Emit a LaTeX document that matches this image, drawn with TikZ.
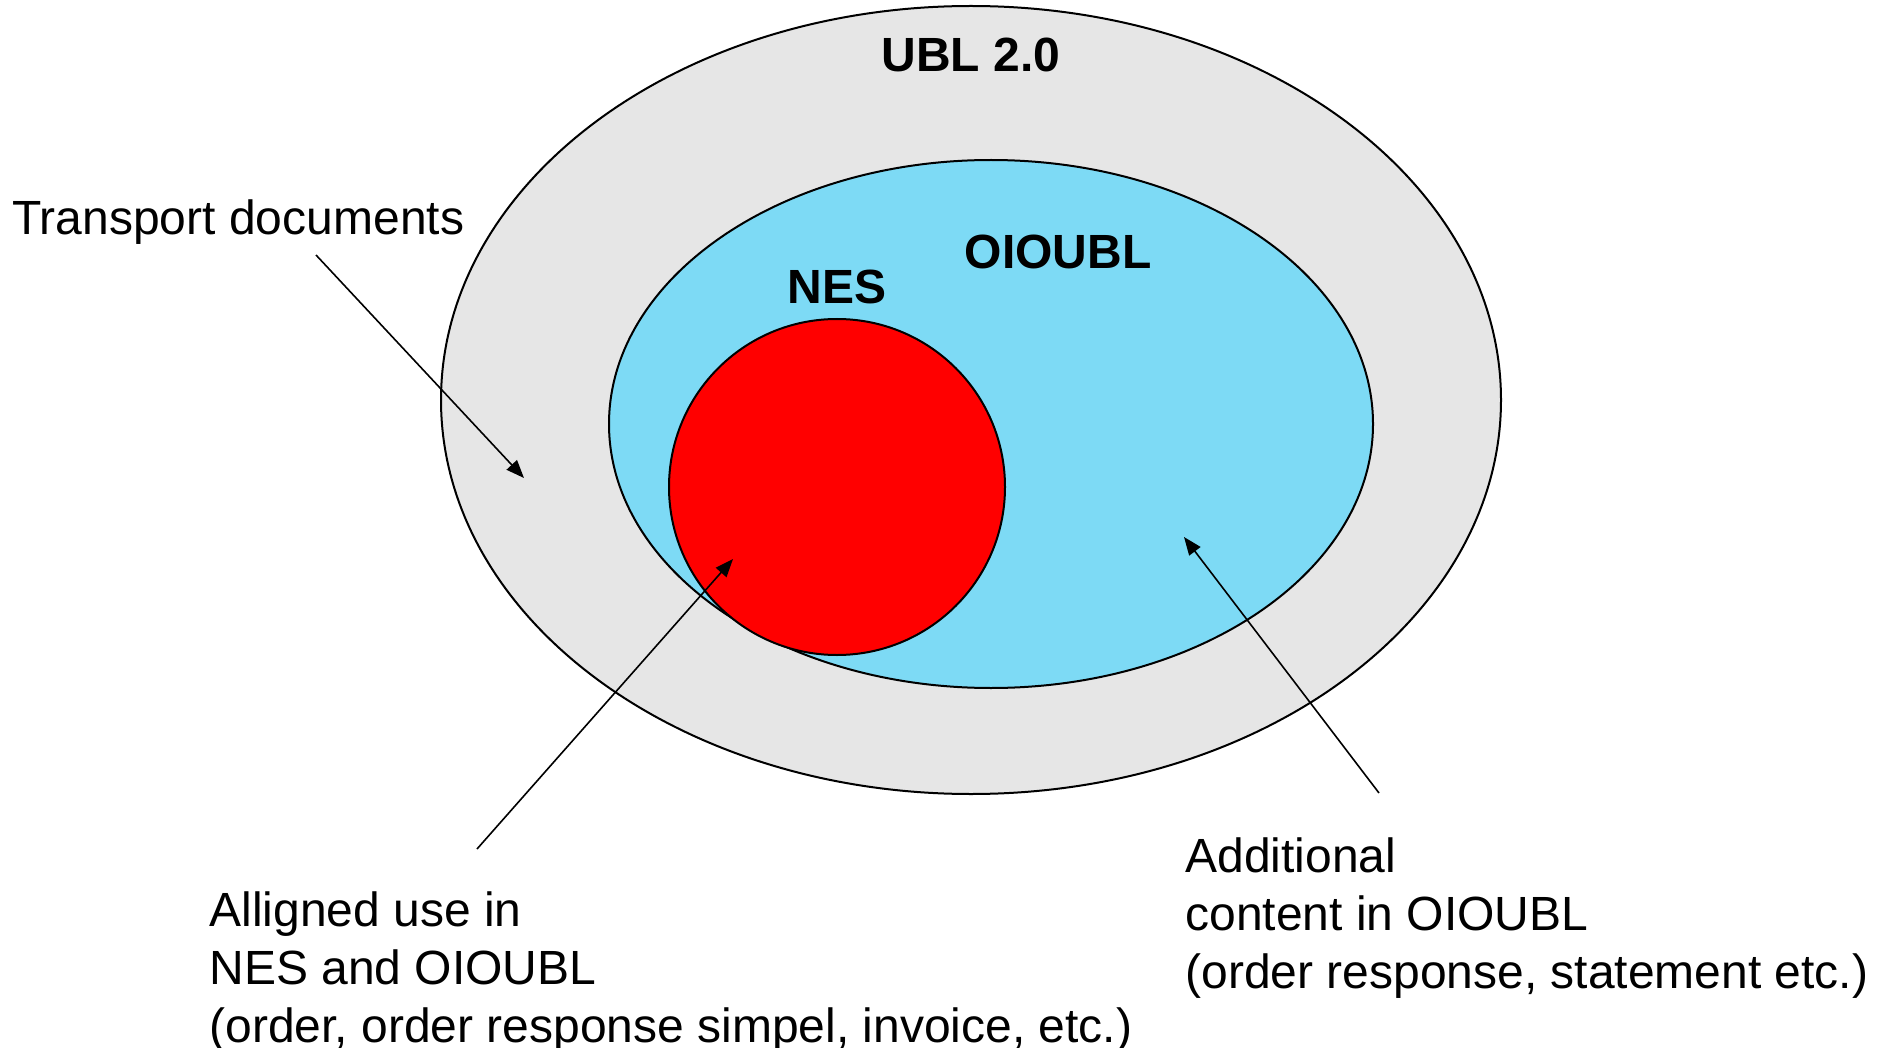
\documentclass[tikz,border=0pt]{standalone}
\usepackage{fontspec}
\setmainfont{Liberation Sans}
\usetikzlibrary{arrows.meta}

\definecolor{ublgray}{RGB}{230,230,230}
\definecolor{oioblue}{RGB}{125,218,245}
\definecolor{nesred}{RGB}{255,0,0}

\begin{document}
\begin{tikzpicture}[x=0.5pt,y=-0.5pt,
  arrow/.style={-{Triangle[length=9pt,width=7pt]}, line width=.8pt},
  txt/.style={font=\fontsize{24}{28.8}\selectfont, inner sep=0, align=left},
  setname/.style={font=\fontsize{24}{28.8}\selectfont\bfseries, inner sep=0}]
\useasboundingbox (0,0) rectangle (1885,1048);

% SETS
\draw[fill=ublgray, line width=1pt] (971,400) ellipse [x radius=530, y radius=394];
\draw[fill=oioblue, line width=1pt] (991,424) ellipse [x radius=382, y radius=264];
\draw[fill=nesred, line width=1pt] (837,487) circle [radius=168];

% SET NAMES
\node[setname, anchor=base] (ubl) at (971,72) {UBL 2.0};
\node[setname, anchor=base] (oioubl) at (1058,269) {OIOUBL};
\node[setname, anchor=base] (nes) at (837,304) {NES};

% CALLOUTS (base = last line)
\node[txt, anchor=base west] (transport) at (12,235) {Transport documents};
\node[txt, anchor=base west] (aligned) at (209,1042)
  {Alligned use in\\NES and OIOUBL\\(order, order response simpel, invoice, etc.)};
\node[txt, anchor=base west] (additional) at (1185,988)
  {Additional\\content in OIOUBL\\(order response, statement etc.)};

\coordinate (transportstart) at (316,255);
\coordinate (transportend) at (524,478);
\coordinate (alignedstart) at (477,849);
\coordinate (alignedend) at (733,559);
\coordinate (additionalstart) at (1379,793);
\coordinate (additionalend) at (1184,537);

\draw[arrow] (transportstart) -- (transportend);
\draw[arrow] (alignedstart) -- (alignedend);
\draw[arrow] (additionalstart) -- (additionalend);
\end{tikzpicture}
\end{document}
